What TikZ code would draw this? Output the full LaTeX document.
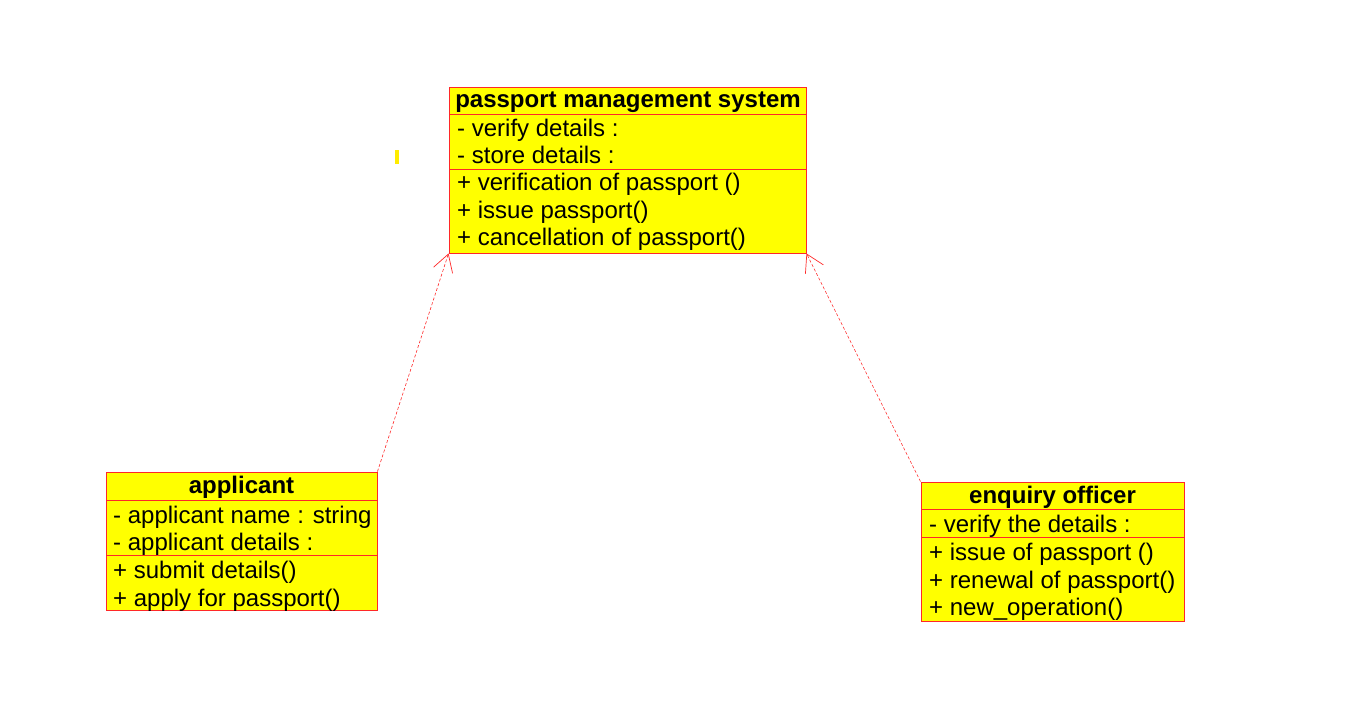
\documentclass[tikz,border=0pt]{standalone}
\usepackage{fontspec}
\setmainfont{Liberation Sans}
\usetikzlibrary{arrows.meta}
\definecolor{uyellow}{RGB}{255,255,0}
\definecolor{ured}{RGB}{255,40,40}
\tikzset{
  classbox/.style={draw=ured, fill=uyellow, line width=0.9pt, inner sep=0pt, rectangle},
  sepline/.style={draw=ured, line width=0.9pt},
  member/.style={anchor=base west, inner sep=0pt, font=\fontsize{24}{28}\selectfont},
  ctitle/.style={anchor=base, inner sep=0pt, font=\fontsize{24}{28}\selectfont\bfseries},
  realize/.style={draw=ured, dashed, line width=0.6pt, dash pattern=on 3pt off 2pt,
    -{Straight Barb[length=17pt,width=20pt,line width=0.7pt]}}
}
\begin{document}
\begin{tikzpicture}[x=1pt,y=-1pt]
\useasboundingbox (0,0) rectangle (1372,703);
% passport management system
\node[classbox, minimum width=357pt, minimum height=166pt] (pms) at (627.5,170) {};
\draw[sepline] (449,114.5) -- (806,114.5);
\draw[sepline] (449,169.5) -- (806,169.5);
\node[ctitle] (pmsT) at (628,108) {passport management system};
\node[member] (pmsA1) at (457,137) {- verify details :};
\node[member] (pmsA2) at (457,164) {- store details :};
\node[member] (pmsO1) at (457,191) {+ verification of passport ()};
\node[member] (pmsO2) at (457,218.5) {+ issue passport()};
\node[member] (pmsO3) at (457,246) {+ cancellation of passport()};
% small mark
\fill[uyellow!85!orange] (394.5,150) rectangle (399,164);
% applicant
\node[classbox, minimum width=271pt, minimum height=138pt] (app) at (241.5,541) {};
\draw[sepline] (106,500) -- (377,500);
\draw[sepline] (106,555.5) -- (377,555.5);
\node[ctitle] (appT) at (241.5,493.5) {applicant};
\node[member] (appA1) at (113,523) {- applicant name : string};
\node[member] (appA2) at (113,550.5) {- applicant details :};
\node[member] (appO1) at (113,578.5) {+ submit details()};
\node[member] (appO2) at (113,606.5) {+ apply for passport()};
% enquiry officer
\node[classbox, minimum width=263pt, minimum height=139pt] (enq) at (1052.5,551.5) {};
\draw[sepline] (921,509.5) -- (1184,509.5);
\draw[sepline] (921,537.5) -- (1184,537.5);
\node[ctitle] (enqT) at (1052.5,503) {enquiry officer};
\node[member] (enqA1) at (929,532.5) {- verify the details :};
\node[member] (enqO1) at (929,560) {+ issue of passport ()};
\node[member] (enqO2) at (929,588) {+ renewal of passport()};
\node[member] (enqO3) at (929,615) {+ new\_operation()};
% realizations
\draw[realize] (app.north east) -- (pms.south west);
\draw[realize] (enq.north west) -- (pms.south east);
\end{tikzpicture}
\end{document}
